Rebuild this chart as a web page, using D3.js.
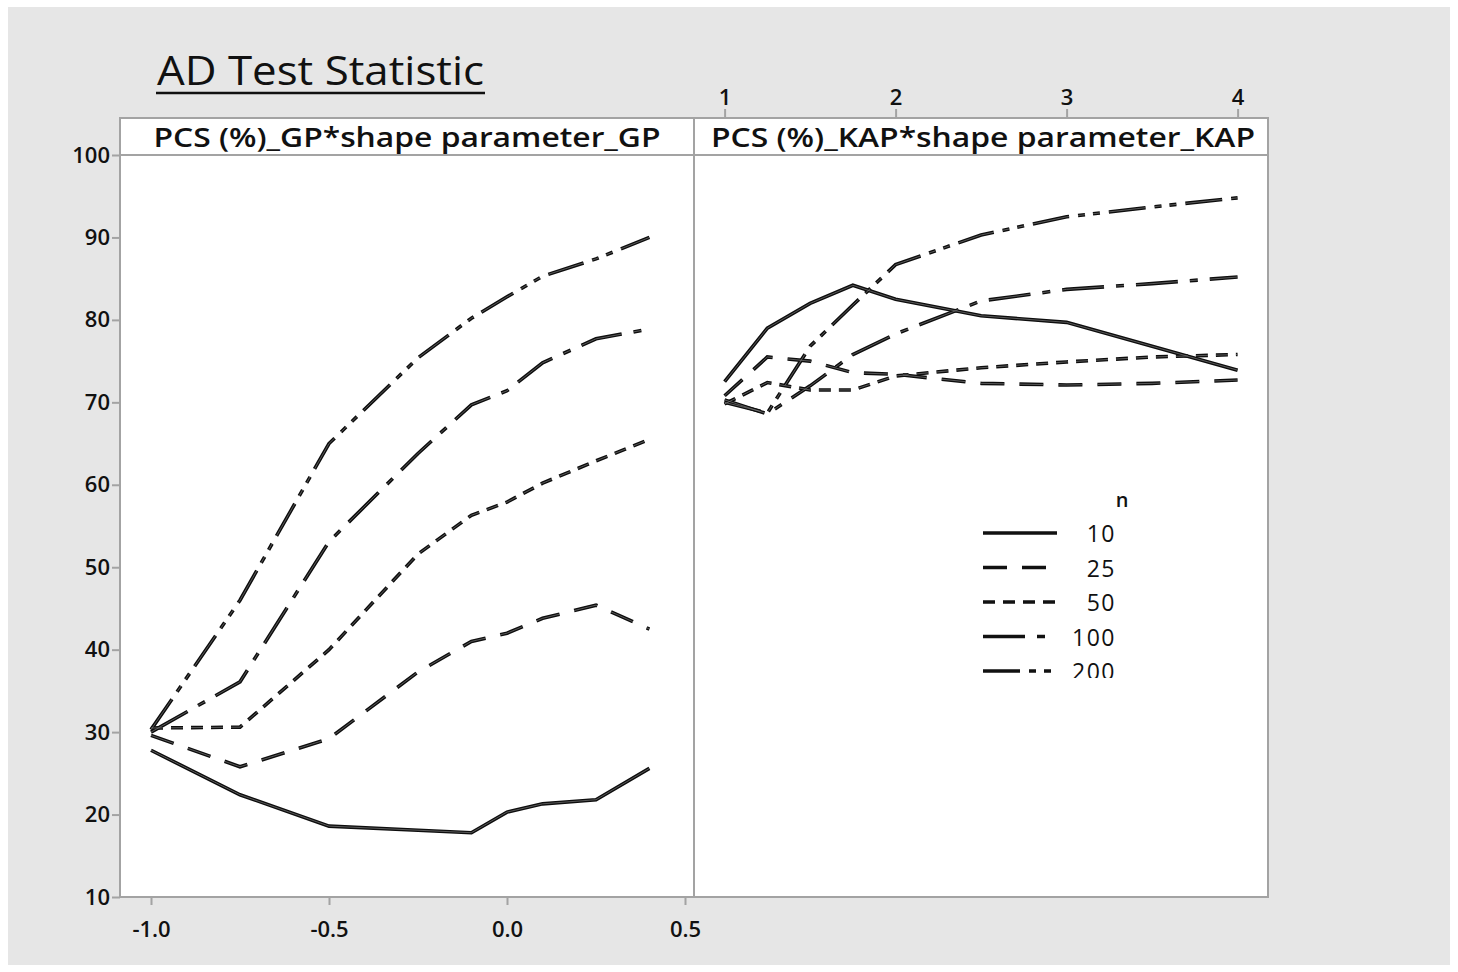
<!DOCTYPE html>
<html>
<head>
<meta charset="utf-8">
<script src="https://cdn.jsdelivr.net/npm/d3@7"></script>
<style>
  body { margin: 0; background: #ffffff; }
  svg { display: block; font-family: "Open Sans", "Noto Sans", sans-serif; }
</style>
</head>
<body>
<div id="chart"></div>
<script>
// valores (PCS %)
const nLevels = [10, 25, 50, 100, 200];

const gpShape = [-1, -0.75, -0.5, -0.25, -0.1, 0, 0.1, 0.25, 0.4];
const gp10  = [27.8, 22.4, 18.6, 18.1, 17.8, 20.3, 21.3, 21.8, 25.6];
const gp25  = [29.6, 25.8, 29.2, 37.3, 41.0, 42.0, 43.8, 45.4, 42.5];
const gp50  = [30.5, 30.6, 40.0, 51.6, 56.3, 57.9, 60.2, 62.9, 65.5];
const gp100 = [30.0, 36.1, 53.1, 63.8, 69.7, 71.4, 74.8, 77.7, 78.9];
const gp200 = [30.3, 46.0, 65.0, 75.4, 80.2, 82.8, 85.3, 87.4, 90.0];

const kapShape = [1, 1.25, 1.5, 1.75, 2, 2.5, 3, 3.5, 4];
const kap10  = [72.5, 79.0, 82.0, 84.2, 82.5, 80.5, 79.7, 76.8, 73.9];
const kap25  = [70.8, 75.5, 75.0, 73.6, 73.4, 72.3, 72.1, 72.3, 72.7];
const kap50  = [69.8, 72.4, 71.5, 71.5, 73.2, 74.2, 74.9, 75.5, 75.8];
const kap100 = [70.3, 68.6, 72.0, 75.8, 78.3, 82.3, 83.7, 84.4, 85.2];
const kap200 = [70.0, 68.7, 76.8, 81.8, 86.7, 90.3, 92.5, 93.7, 94.8];

const yTicks = [10, 20, 30, 40, 50, 60, 70, 80, 90, 100];
const gpTicks = [-1.0, -0.5, 0.0, 0.5];
const kapTicks = [1, 2, 3, 4];

const titleText = "AD Test Statistic";
const stripGP = "PCS (%)_GP*shape parameter_GP";
const stripKAP = "PCS (%)_KAP*shape parameter_KAP";

// Tamaños
const WIDTH = 1458;
const HEIGHT = 972;
const FRAME = { left: 120, mid: 694, right: 1268, top: 118, strip: 155, bottom: 897 };

// patrones de linea estilo Minitab
const dashes = ["none", "24,15", "12,8", "42,12,8,12", "37,9,7,8,7,9"];

const svg = d3.select("#chart").append("svg").attr("width", WIDTH).attr("height", HEIGHT);

svg.append("rect").attr("x", 8).attr("y", 7).attr("width", 1442).attr("height", 958).attr("fill", "#e6e6e6");

// Escalas
const y = d3.scaleLinear().domain([10, 100]).range([FRAME.bottom, FRAME.strip]);
const xGP = d3.scaleLinear().domain([-1, 0.5]).range([151, 685]);
const xKAP = d3.scaleLinear().domain([1, 4]).range([724.6, 1237.6]);

// Paneles
svg.append("rect").attr("x", FRAME.left).attr("y", FRAME.top)
  .attr("width", FRAME.right - FRAME.left).attr("height", FRAME.bottom - FRAME.top)
  .attr("fill", "white");

const defs = svg.append("defs");
defs.append("clipPath").attr("id", "clipGP").append("rect")
  .attr("x", FRAME.left).attr("y", FRAME.strip).attr("width", FRAME.mid - FRAME.left).attr("height", FRAME.bottom - FRAME.strip);
defs.append("clipPath").attr("id", "clipKAP").append("rect")
  .attr("x", FRAME.mid).attr("y", FRAME.strip).attr("width", FRAME.right - FRAME.mid).attr("height", FRAME.bottom - FRAME.strip);
defs.append("clipPath").attr("id", "clipLegend").append("rect")
  .attr("x", 960).attr("y", 480).attr("width", 200).attr("height", 198);

// Lineas
const gpSeries = [gp10, gp25, gp50, gp100, gp200].map((vals, i) => ({ n: nLevels[i], dash: dashes[i], pts: vals.map((v, j) => [gpShape[j], v]) }));
const kapSeries = [kap10, kap25, kap50, kap100, kap200].map((vals, i) => ({ n: nLevels[i], dash: dashes[i], pts: vals.map((v, j) => [kapShape[j], v]) }));

function drawLines(series, x, clip) {
  const line = d3.line().x(d => x(d[0])).y(d => y(d[1]));
  const g = svg.append("g").attr("clip-path", `url(#${clip})`);
  // linea negra + centro gris para el efecto "doble"
  g.selectAll(".outer").data(series).join("path").attr("class", "outer")
    .attr("d", d => line(d.pts)).attr("fill", "none").attr("stroke", "#0d0d0d")
    .attr("stroke-width", 3.6).attr("stroke-dasharray", d => d.dash).attr("stroke-linejoin", "miter");
  g.selectAll(".inner").data(series).join("path").attr("class", "inner")
    .attr("d", d => line(d.pts)).attr("fill", "none").attr("stroke", "#7a7a7a")
    .attr("stroke-width", 0.7).attr("stroke-dasharray", d => d.dash);
}
drawLines(gpSeries, xGP, "clipGP");
drawLines(kapSeries, xKAP, "clipKAP");

// Marcos
const frameColor = "#a3a3a3";
svg.append("rect").attr("x", FRAME.left).attr("y", FRAME.top)
  .attr("width", FRAME.right - FRAME.left).attr("height", FRAME.bottom - FRAME.top)
  .attr("fill", "none").attr("stroke", frameColor).attr("stroke-width", 2);
svg.append("line").attr("x1", FRAME.mid).attr("x2", FRAME.mid).attr("y1", FRAME.top).attr("y2", FRAME.bottom)
  .attr("stroke", frameColor).attr("stroke-width", 2);
svg.append("line").attr("x1", FRAME.left).attr("x2", FRAME.right).attr("y1", FRAME.strip).attr("y2", FRAME.strip)
  .attr("stroke", frameColor).attr("stroke-width", 2);

// Ejes
const hyphenFmt = f => d => d3.format(f)(d).replace("\u2212", "-");
function styleAxis(g) {
  g.select(".domain").remove();
  g.selectAll(".tick line").attr("stroke", frameColor).attr("stroke-width", 2);
  g.selectAll(".tick text").attr("fill", "#111").attr("font-size", 22).attr("font-weight", 600)
    .attr("font-family", "'Open Sans', 'Noto Sans', sans-serif");
}
svg.append("g").attr("transform", `translate(${FRAME.left},0)`)
  .call(d3.axisLeft(y).tickValues(yTicks).tickSize(8).tickPadding(2))
  .call(styleAxis);
svg.append("g").attr("transform", `translate(0,${FRAME.bottom})`)
  .call(d3.axisBottom(xGP).tickValues(gpTicks).tickSize(8).tickPadding(16).tickFormat(hyphenFmt(".1f")))
  .call(styleAxis);
svg.append("g").attr("transform", `translate(0,${FRAME.top})`)
  .call(d3.axisTop(xKAP).tickValues(kapTicks).tickSize(9).tickPadding(4).tickFormat(d3.format("d")))
  .call(styleAxis);

// Tiras
svg.append("text").attr("x", 407).attr("y", 147).attr("text-anchor", "middle")
  .attr("font-size", 27).attr("font-weight", 600).attr("fill", "#111")
  .attr("textLength", 507).attr("lengthAdjust", "spacingAndGlyphs").text(stripGP);
svg.append("text").attr("x", 983).attr("y", 147).attr("text-anchor", "middle")
  .attr("font-size", 27).attr("font-weight", 600).attr("fill", "#111")
  .attr("textLength", 544).attr("lengthAdjust", "spacingAndGlyphs").text(stripKAP);

// Titulo
svg.append("text").attr("x", 157).attr("y", 85).attr("font-size", 41).attr("fill", "#111")
  .attr("textLength", 327).attr("lengthAdjust", "spacingAndGlyphs").text(titleText);
svg.append("line").attr("x1", 156).attr("x2", 485).attr("y1", 93).attr("y2", 93)
  .attr("stroke", "#111").attr("stroke-width", 2.5);

// Leyenda
const legend = svg.append("g").attr("clip-path", "url(#clipLegend)");
legend.append("text").attr("x", 1122).attr("y", 507).attr("text-anchor", "middle")
  .attr("font-size", 20).attr("font-weight", 600).attr("fill", "#111").text("n");
const rowY = d3.scalePoint().domain(nLevels).range([533, 671]);
const rows = legend.selectAll(".row").data(nLevels).join("g").attr("class", "row")
  .attr("transform", d => `translate(0,${rowY(d)})`);
rows.append("line").attr("x1", 983).attr("x2", 1057).attr("y1", 0).attr("y2", 0)
  .attr("stroke", "#111").attr("stroke-width", 3.6).attr("stroke-dasharray", (d, i) => dashes[i]);
rows.append("text").attr("x", 1116).attr("y", 9).attr("text-anchor", "end")
  .attr("font-size", 23).attr("fill", "#111").attr("letter-spacing", 1.5).text(d => d);
</script>
</body>
</html>
